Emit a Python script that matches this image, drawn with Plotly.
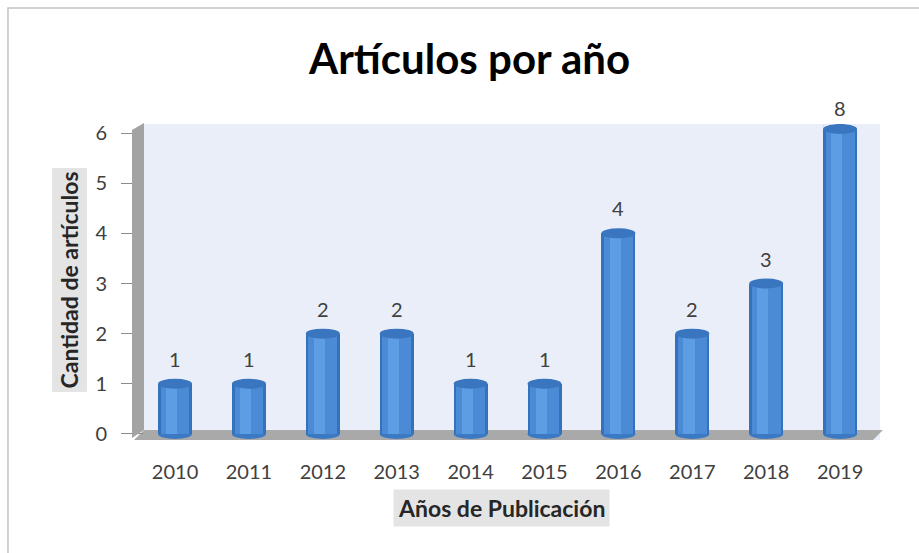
import plotly.graph_objects as go

# Publication counts per year
years = ["2010", "2011", "2012", "2013", "2014", "2015", "2016", "2017", "2018", "2019"]
counts = [1, 1, 2, 2, 1, 1, 4, 2, 3, 8]
y_ticks = [0, 1, 2, 3, 4, 5, 6]

FONT = "Lato, 'Open Sans', sans-serif"
WALL = "#e9eef8"
Y_MAX = y_ticks[-1]
Y_TOP = 6.18          # top of the back wall
Y_BOTTOM = -0.12      # front edge of the floor
CAP_H = 0.1           # half height of the cylinder caps (data units)
HALF_W = 0.23         # half width of the cylinders (category units)
K = 0.5523            # bezier constant for quarter ellipses

xs = list(range(len(years)))

fig = go.Figure()

# Cylinder body built from overlaid bars: dark rim, body, highlight
layers = [
    (-HALF_W, 2 * HALF_W, "#3672bb"),
    (-0.195, 0.39, "#4b8bd5"),
    (-0.12, 0.15, "#5d9de3"),
]
for off, w, col in layers:
    fig.add_trace(go.Bar(
        x=xs, y=counts, offset=off, width=w,
        marker=dict(color=col, line=dict(width=0)),
        hoverinfo="skip", showlegend=False,
    ))

shapes = []

# Left side wall and floor of the 3D frame (paper coordinates)
shapes.append(dict(
    type="path", xref="paper", yref="paper", layer="above",
    path="M -0.0163 0.006 L -0.0163 0.981 L 0 1.003 L 0 0.0316 Z",
    fillcolor="#a3a3a3", line=dict(width=0),
))
shapes.append(dict(
    type="path", xref="paper", yref="paper", layer="below",
    path="M -0.0136 0.0 L 0 0.0316 L 1.004 0.0316 L 0.9905 0.0 Z",
    fillcolor="#a9a9a9", line=dict(width=0),
))

annotations = []

# Rounded bottoms, caps and value labels of the cylinders
for x, v in zip(xs, counts):
    shapes.append(dict(
        type="circle", xref="x", yref="y", layer="below",
        x0=x - HALF_W, x1=x + HALF_W, y0=-CAP_H, y1=CAP_H,
        fillcolor="#3c79c3", line=dict(width=0),
    ))
    clipped = v > Y_MAX
    yc = Y_TOP - CAP_H if clipped else v
    shapes.append(dict(
        type="circle", xref="x", yref="y", layer="above",
        x0=x - HALF_W, x1=x + HALF_W, y0=yc - CAP_H, y1=yc + CAP_H,
        fillcolor="#3a76bf", line=dict(width=0),
    ))
    if clipped:
        # mask the square corners of the clipped body around the cap
        yt = yc + CAP_H
        for sgn in (-1, 1):
            xe = x + sgn * HALF_W
            path = (f"M {xe} {yc} L {xe} {yt} L {x} {yt} "
                    f"C {x + sgn * K * HALF_W} {yt} {xe} {yc + K * CAP_H} {xe} {yc} Z")
            shapes.append(dict(
                type="path", xref="x", yref="y", layer="above",
                path=path, fillcolor=WALL, line=dict(width=0),
            ))
    annotations.append(dict(
        x=x, y=min(v, Y_MAX), xref="x", yref="y", yshift=25,
        text=str(v), showarrow=False, yanchor="middle",
        font=dict(family=FONT, size=20, color="#404040"),
    ))

# Outer chart border
shapes.append(dict(
    type="rect", xref="paper", yref="paper", layer="above",
    x0=-0.1848, x1=1.3, y0=-0.6, y1=1.367,
    line=dict(color="#c4c4c4", width=1.5), fillcolor="rgba(0,0,0,0)",
))

annotations += [
    dict(text="<b>Cantidad de artículos</b>", xref="paper", yref="paper",
         x=-0.1006, y=0.508, xanchor="center", yanchor="middle",
         textangle=-90, showarrow=False,
         font=dict(family=FONT, size=23, color="#262626"),
         bgcolor="#e4e4e4", borderpad=3),
    dict(text="<b>Años de Publicación</b>", xref="paper", yref="paper",
         x=0.4864, y=-0.215, xanchor="center", yanchor="middle",
         showarrow=False,
         font=dict(family=FONT, size=23, color="#262626"),
         bgcolor="#e4e4e4", borderpad=4),
]

fig.update_layout(
    width=919, height=553,
    margin=dict(l=144, r=39, t=124, b=113),
    paper_bgcolor="white", plot_bgcolor=WALL,
    barmode="overlay", bargap=0,
    title=dict(text="<b>Artículos por año</b>", x=0.511, xanchor="center",
               y=0.893, yanchor="middle",
               font=dict(family=FONT, size=42, color="#000000")),
    xaxis=dict(range=[-0.42, 9.54], tickvals=xs, ticktext=years,
               showgrid=False, zeroline=False, showline=False, ticks="",
               ticklabelstandoff=18,
               tickfont=dict(family=FONT, size=20, color="#404040")),
    yaxis=dict(range=[Y_BOTTOM, Y_TOP], tickvals=y_ticks,
               showgrid=False, zeroline=False, showline=False,
               ticks="outside", ticklen=22, tickcolor="#8c8c8c", tickwidth=1,
               ticklabelstandoff=10,
               tickfont=dict(family=FONT, size=20, color="#404040")),
    shapes=shapes, annotations=annotations,
)

fig.write_html("out.html")
